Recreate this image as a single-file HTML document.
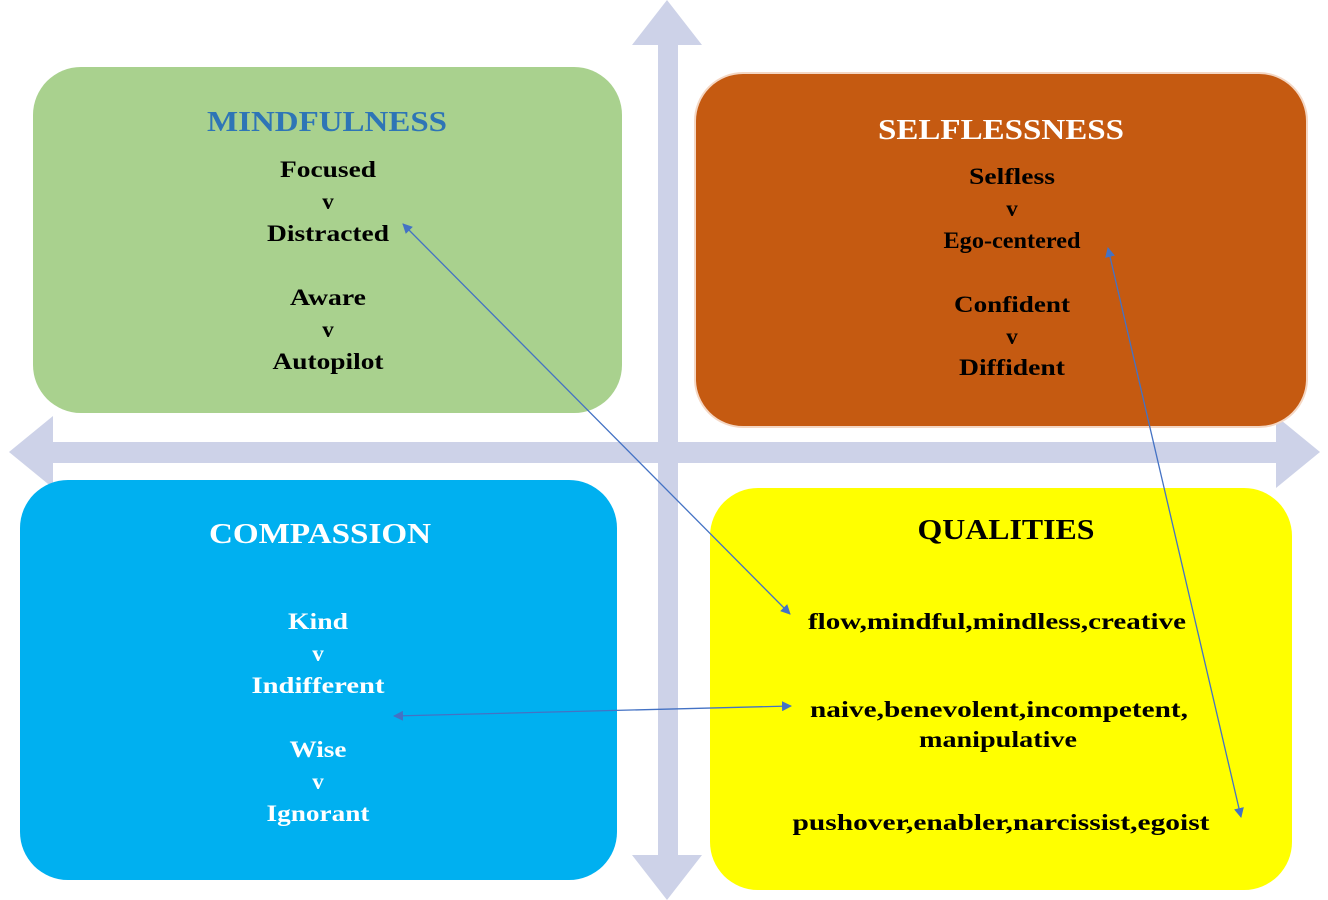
<!DOCTYPE html>
<html><head><meta charset="utf-8"><style>
html,body{margin:0;padding:0;background:#fff;width:1328px;height:900px;overflow:hidden}
svg text{font-family:"Liberation Serif","Times New Roman",serif;font-weight:bold;text-anchor:middle}
</style></head><body>
<svg width="1328" height="900" viewBox="0 0 1328 900" xmlns="http://www.w3.org/2000/svg">
<defs>
<marker id="ah" markerWidth="10" markerHeight="10" refX="9" refY="5" orient="auto-start-reverse" markerUnits="userSpaceOnUse" viewBox="0 0 10 10">
<path d="M0,0 L10,5 L0,10 z" fill="#4472C4"/></marker>
</defs>
<g fill="#CDD2E8">
<rect x="658" y="40" width="20" height="820"/>
<polygon points="667,0 632,45 702,45"/>
<polygon points="667,900 632,855 702,855"/>
<rect x="45" y="442" width="1240" height="21"/>
<polygon points="9,452 53,416 53,488"/>
<polygon points="1320,452 1276,416 1276,488"/>
</g>
<rect x="33" y="67" width="589" height="346" rx="48" fill="#A9D18E"/>
<rect x="695" y="73" width="612" height="354" rx="48" fill="#C55A11" stroke="#F4D7C4" stroke-width="2"/>
<rect x="20" y="480" width="597" height="400" rx="48" fill="#00B0F0"/>
<rect x="710" y="488" width="582" height="402" rx="48" fill="#FFFF00"/>

<g font-size="23" fill="#000" lengthAdjust="spacingAndGlyphs">
<text x="327" y="131" font-size="28" fill="#2E75B6" textLength="240" lengthAdjust="spacingAndGlyphs">MINDFULNESS</text>
<text x="328" y="177" textLength="96" lengthAdjust="spacingAndGlyphs">Focused</text>
<text x="328" y="209">v</text>
<text x="328" y="241" textLength="122" lengthAdjust="spacingAndGlyphs">Distracted</text>
<text x="328" y="305" textLength="76" lengthAdjust="spacingAndGlyphs">Aware</text>
<text x="328" y="337">v</text>
<text x="328" y="369" textLength="111" lengthAdjust="spacingAndGlyphs">Autopilot</text>

<text x="1001" y="139" font-size="28" fill="#fff" textLength="246" lengthAdjust="spacingAndGlyphs">SELFLESSNESS</text>
<text x="1012" y="184" textLength="86" lengthAdjust="spacingAndGlyphs">Selfless</text>
<text x="1012" y="216">v</text>
<text x="1012" y="248" textLength="137" lengthAdjust="spacingAndGlyphs">Ego-centered</text>
<text x="1012" y="312" textLength="116" lengthAdjust="spacingAndGlyphs">Confident</text>
<text x="1012" y="344">v</text>
<text x="1012" y="375" textLength="106" lengthAdjust="spacingAndGlyphs">Diffident</text>

<text x="320" y="543" font-size="28" fill="#fff" textLength="222" lengthAdjust="spacingAndGlyphs">COMPASSION</text>
<g fill="#fff">
<text x="318" y="629" textLength="60" lengthAdjust="spacingAndGlyphs">Kind</text>
<text x="318" y="661">v</text>
<text x="318" y="693" textLength="133" lengthAdjust="spacingAndGlyphs">Indifferent</text>
<text x="318" y="757" textLength="57" lengthAdjust="spacingAndGlyphs">Wise</text>
<text x="318" y="789">v</text>
<text x="318" y="821" textLength="103" lengthAdjust="spacingAndGlyphs">Ignorant</text>
</g>

<text x="1006" y="539" font-size="28" textLength="177" lengthAdjust="spacingAndGlyphs">QUALITIES</text>
<text x="997" y="629" textLength="378" lengthAdjust="spacingAndGlyphs">flow,mindful,mindless,creative</text>
<text x="999" y="717" textLength="378" lengthAdjust="spacingAndGlyphs">naive,benevolent,incompetent,</text>
<text x="998" y="747" textLength="158" lengthAdjust="spacingAndGlyphs">manipulative</text>
<text x="1001" y="830" textLength="417" lengthAdjust="spacingAndGlyphs">pushover,enabler,narcissist,egoist</text>
</g>

<g stroke="#4472C4" stroke-width="1.3" fill="none">
<line x1="403" y1="224" x2="790" y2="614" marker-start="url(#ah)" marker-end="url(#ah)"/>
<line x1="1108" y1="248" x2="1241" y2="817" marker-start="url(#ah)" marker-end="url(#ah)"/>
<line x1="394" y1="716" x2="791" y2="706" marker-start="url(#ah)" marker-end="url(#ah)"/>
</g>
</svg>
</body></html>
